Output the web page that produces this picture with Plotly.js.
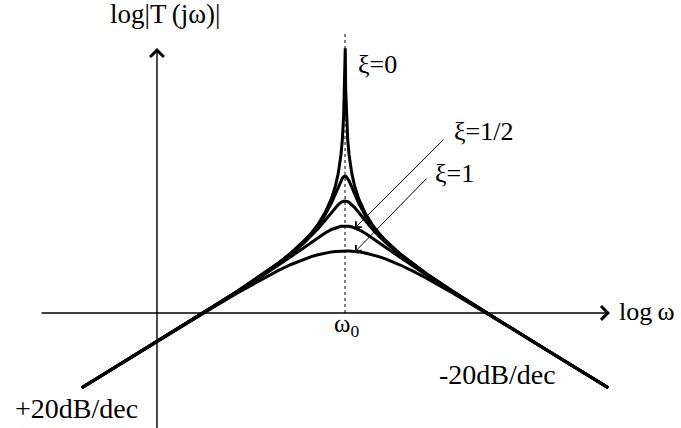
<!DOCTYPE html>
<html>
<head>
<meta charset="utf-8">
<script src="https://cdn.plot.ly/plotly-3.0.1.min.js"></script>
<style>
  html, body { margin: 0; padding: 0; background: #ffffff; }
  #chart { width: 681px; height: 428px; }
  #chart text.annotation-text { font-family: "Liberation Serif", "DejaVu Serif", serif !important; }
</style>
</head>
<body>
<div id="chart"></div>
<script>
// Band-pass magnitude response: log|T(jω)| against log(ω/ω0), in decades.
const logW = [-1.95, -1.5, -1.2, -1.0, -0.8, -0.6, -0.5, -0.4, -0.3, -0.25, -0.2, -0.15, -0.1, -0.07, -0.05, -0.03, -0.02, -0.01, 0,
              0.01, 0.02, 0.03, 0.05, 0.07, 0.1, 0.15, 0.2, 0.25, 0.3, 0.4, 0.5, 0.6, 0.8, 1.0, 1.2, 1.5, 1.95];

// Undamped case has its own abscissae, crowding in on the resonance spike.
const logW0 = [-1.95, -1.5, -1.2, -1.0, -0.8, -0.6, -0.5, -0.4, -0.3, -0.25, -0.2, -0.15, -0.1, -0.07, -0.05, -0.03, -0.02, -0.01, -0.005, -0.0016,
               0.0016, 0.005, 0.01, 0.02, 0.03, 0.05, 0.07, 0.1, 0.15, 0.2, 0.25, 0.3, 0.4, 0.5, 0.6, 0.8, 1.0, 1.2, 1.5, 1.95];

const magXi0 = [-1.950, -1.500, -1.198, -0.996, -0.789, -0.572, -0.454, -0.325, -0.174, -0.085, 0.020, 0.152, 0.333, 0.490, 0.637, 0.859, 1.036, 1.337, 1.638, 2.140,
                2.140, 1.638, 1.337, 1.036, 0.859, 0.637, 0.490, 0.333, 0.152, 0.020, -0.085, -0.174, -0.325, -0.454, -0.572, -0.789, -0.996, -1.198, -1.500, -1.950];

const magXi8 = [-1.950, -1.500, -1.198, -0.996, -0.789, -0.573, -0.456, -0.328, -0.180, -0.094, 0.006, 0.126, 0.278, 0.388, 0.468, 0.544, 0.574, 0.595, 0.602,
                0.595, 0.574, 0.544, 0.468, 0.388, 0.278, 0.126, 0.006, -0.094, -0.180, -0.328, -0.456, -0.573, -0.789, -0.996, -1.198, -1.500, -1.950];

const magXi4 = [-1.950, -1.500, -1.198, -0.996, -0.790, -0.576, -0.461, -0.337, -0.197, -0.119, -0.032, 0.063, 0.166, 0.225, 0.259, 0.285, 0.294, 0.299, 0.301,
                0.299, 0.294, 0.285, 0.259, 0.225, 0.166, 0.063, -0.032, -0.119, -0.197, -0.337, -0.461, -0.576, -0.790, -0.996, -1.198, -1.500, -1.950];

const magXi2 = [-1.950, -1.500, -1.199, -0.998, -0.795, -0.587, -0.480, -0.369, -0.255, -0.197, -0.141, -0.088, -0.042, -0.022, -0.011, -0.004, -0.002, -0.001, 0.000,
                -0.001, -0.002, -0.004, -0.011, -0.022, -0.042, -0.088, -0.141, -0.197, -0.255, -0.369, -0.480, -0.587, -0.795, -0.998, -1.199, -1.500, -1.950];

const magXi1 = [-1.950, -1.500, -1.202, -1.004, -0.811, -0.627, -0.541, -0.464, -0.397, -0.369, -0.346, -0.326, -0.312, -0.307, -0.304, -0.302, -0.301, -0.301, -0.301,
                -0.301, -0.301, -0.302, -0.304, -0.307, -0.312, -0.326, -0.346, -0.369, -0.397, -0.464, -0.541, -0.627, -0.811, -1.004, -1.202, -1.500, -1.950];

// Where the sketch axes sit (in decades)
const axisY = -1.048;   // log ω axis
const axisX = -1.393;   // log|T| axis

const curveLine = { color: '#000000', width: 3 };
const traces = [
  { x: logW0, y: magXi0, mode: 'lines', line: curveLine, hoverinfo: 'skip' },
  { x: logW, y: magXi8, mode: 'lines', line: curveLine, hoverinfo: 'skip' },
  { x: logW, y: magXi4, mode: 'lines', line: curveLine, hoverinfo: 'skip' },
  { x: logW, y: magXi2, mode: 'lines', line: curveLine, hoverinfo: 'skip' },
  { x: logW, y: magXi1, mode: 'lines', line: curveLine, hoverinfo: 'skip' }
];

const serif = 'Liberation Serif';
function label(text, x, y, size, xanchor, yanchor) {
  return { text: text, x: x, y: y, xref: 'x', yref: 'y', showarrow: false,
           xanchor: xanchor || 'left', yanchor: yanchor || 'middle',
           font: { family: serif, size: size, color: '#000000' } };
}
function arrow(x, y, ax, ay, width, size) {
  return { text: '', x: x, y: y, ax: ax, ay: ay, xref: 'x', yref: 'y', axref: 'x', ayref: 'y',
           showarrow: true, arrowhead: 4, arrowwidth: width, arrowsize: size, arrowcolor: '#000000', standoff: 0 };
}

const layout = {
  width: 681, height: 428, autosize: false,
  margin: { l: 0, r: 0, t: 0, b: 0, pad: 0 },
  paper_bgcolor: '#ffffff', plot_bgcolor: '#ffffff',
  showlegend: false,
  font: { family: serif, color: '#000000' },
  xaxis: { range: [-2.556, 2.489], visible: false, fixedrange: true },
  yaxis: { range: [-2.434, 2.723], visible: false, fixedrange: true },
  shapes: [
    // ω0 marker
    { type: 'line', xref: 'x', yref: 'y', x0: 0, x1: 0, y0: axisY, y1: 2.325,
      line: { color: '#000000', width: 1, dash: 'dot' } }
  ],
  annotations: [
    // axes with open arrowheads
    arrow(1.963, axisY, -2.259, axisY, 1.4, 1.9),
    arrow(axisX, 2.145, axisX, -2.6, 1.4, 1.9),
    // damping pointers
    arrow(0.074, -0.024, 0.741, 1.060, 1, 1.6),
    arrow(0.074, -0.31, 0.615, 0.590, 1, 1.6),
    label('log|T\u2009(jω)|', -1.756, 2.56, 27, 'left', 'middle'),
    label('log\u2009ω', 2.015, -1.036, 26),
    label('ω<sub>0</sub>', -0.096, -1.193, 25),
    label('ξ=0', 0.081, 1.94, 26),
    label('ξ=1/2', 0.793, 1.133, 26),
    label('ξ=1', 0.652, 0.627, 26),
    label('-20dB/dec', 0.681, -1.795, 28),
    label('+20dB/dec', -2.459, -2.193, 28)
  ]
};

Plotly.newPlot('chart', traces, layout, { staticPlot: true, displayModeBar: false });
</script>
</body>
</html>
